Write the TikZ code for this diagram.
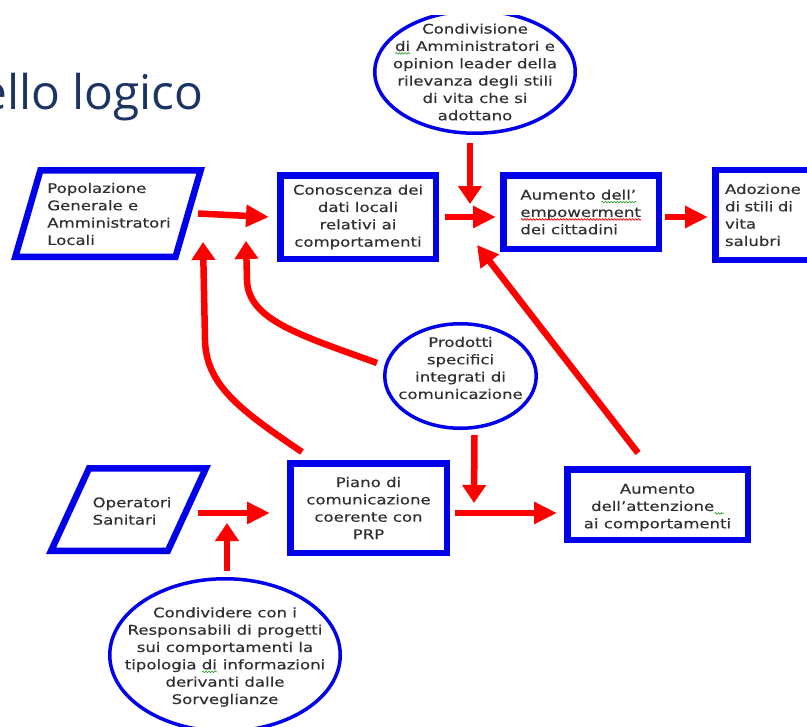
\documentclass[tikz,border=0pt]{standalone}
\usepackage{fontspec}
\usetikzlibrary{arrows.meta,shapes.geometric,decorations.pathmorphing}
\newfontfamily\diagfont[FakeStretch=1.25,FakeBold=0.35]{DejaVu Sans}
\newfontfamily\titlefont{Open Sans}
\definecolor{bblue}{RGB}{0,0,235}
\definecolor{rred}{RGB}{255,0,0}
\definecolor{ttext}{RGB}{50,45,50}
\definecolor{navy}{RGB}{28,52,100}
\definecolor{sqgreen}{RGB}{60,160,60}
\newsavebox{\wavybox}
\newcommand{\wavyul}[2]{\sbox{\wavybox}{#2}\rlap{\usebox{\wavybox}}\raisebox{-2.5bp}{\tikz[x=1bp,y=1bp,baseline=0pt]\draw[#1, line width=0.7bp, line cap=butt, decorate, decoration={snake, amplitude=0.8bp, segment length=3bp}] (0,0) -- (\wd\wavybox,0);}}
\begin{document}
\begin{tikzpicture}[x=1bp,y=-1bp,
  txt/.style={font=\diagfont\fontsize{13.3}{17.4}\selectfont, text=ttext},
  boxnode/.style={draw=bblue, line width=6.5bp, rectangle, inner sep=0pt, txt},
  parashape/.style={draw=bblue, line width=6.5bp, line join=miter},
  oval/.style={draw=bblue, line width=3.5bp, ellipse, inner sep=0pt},
  harr/.style={draw=rred, line width=6.5bp, -{Triangle[length=23bp,width=21bp]}},
  varr/.style={draw=rred, line width=6.5bp, -{Triangle[length=18bp,width=23bp]}},
  darr/.style={draw=rred, line width=6.5bp, -{Triangle[length=21bp,width=22bp]}}
]
\clip (0,0) rectangle (807,727);
\fill[white] (0,0) rectangle (807,727);

% title
\node[font=\titlefont\fontsize{48}{52}\selectfont, text=navy, anchor=base west, inner sep=0pt] (title) at (-20,110) {ello logico};

% top ellipse (cut by the top of the picture)
\begin{scope}
\clip (0,16) rectangle (807,727);
\node[oval, minimum width=200.5bp, minimum height=122.5bp,
  label={[txt, align=center]center:Condivisione\\\wavyul{sqgreen}{di} Amministratori e\\opinion leader della\\rilevanza degli stili\\di vita che si\\adottano}] (cTop) at (475,72) {};
\end{scope}

% first row
\draw[parashape] (40.45,170.25) -- (200.67,170.25) -- (175.55,256.75) -- (15.33,256.75) -- cycle;
\node[txt, align=left, inner sep=0pt] (pop) at (109,214) {Popolazione\\Generale e\\Amministratori\\Locali};
\coordinate (popE) at (190,213.5);

\node[boxnode, minimum width=155.5bp, minimum height=83.5bp, align=center] (con) at (358,217) {Conoscenza dei\\dati locali\\relativi ai\\comportamenti};
\node[boxnode, minimum width=155.5bp, minimum height=73.5bp, align=left] (emp) at (581,212) {Aumento \wavyul{sqgreen}{dell’}\\\wavyul{rred}{empowerment}\\dei cittadini};
\node[boxnode, minimum width=111.5bp, minimum height=89.5bp, text width=92bp, align=left] (ado) at (771,215) {Adozione\\di stili di\\vita\\salubri};

% middle ellipse
\node[oval, minimum width=151.5bp, minimum height=104.5bp,
  label={[txt, align=center, yshift=8bp]center:Prodotti\\specifici\\integrati di\\comunicazione}] (cMid) at (460.5,376) {};

% second row
\draw[parashape] (89.1,468.25) -- (205.9,468.25) -- (167.9,550.75) -- (51.1,550.75) -- cycle;
\node[txt, align=left, inner sep=0pt] (ops) at (132,511) {Operatori\\Sanitari};
\coordinate (opsE) at (189,513);

\node[boxnode, minimum width=156.5bp, minimum height=89.5bp, align=center] (piano) at (368.5,508) {Piano di\\comunicazione\\coerente con\\PRP};
\node[boxnode, minimum width=180.5bp, minimum height=70.5bp,
  label={[txt, align=center, yshift=-3bp]center:Aumento\\dell’attenzione\wavyul{sqgreen}{\hspace{9bp}}\\ai comportamenti}] (att) at (657.5,504.5) {};

% bottom ellipse
\node[oval, minimum width=230.5bp, minimum height=152.5bp,
  label={[txt, align=center, yshift=-2bp]center:Condividere con i\\Responsabili di progetti\\sui comportamenti la\\tipologia \wavyul{sqgreen}{di} informazioni\\derivanti dalle\\Sorveglianze}] (cBot) at (225,655) {};

% free arrow ends
\coordinate (tipA) at (203,242);
\coordinate (tipB) at (246,241);
\coordinate (tipC) at (477,245);
\coordinate (tipD) at (470,204);
\coordinate (tipE) at (227,523);
\coordinate (tipF) at (474,503);

% straight arrows
\draw[harr] ([shift={(8,0)}]popE) -- ([shift={(-8,0)}]con.west);
\draw[harr] ([shift={(6,0)}]con.east) -- ([shift={(-4,0)}]con.east -| emp.west);
\draw[harr] ([shift={(3,0)}]emp.east |- con.east) -- ([shift={(-4,0)}]ado.west |- con.east);
\draw[varr] ([shift={(-5,8)}]cTop.south) -- (tipD);
\draw[harr] ([shift={(9,0)}]opsE) -- ([shift={(-17,0)}]opsE -| piano.west);
\draw[harr] ([shift={(5,0)}]piano.east |- opsE) -- ([shift={(-7,0)}]opsE -| att.west);
\draw[varr] ([shift={(14,5)}]cMid.south) -- (tipF);
\draw[varr] ([shift={(2,-6)}]cBot.north) -- (tipE);

% curved and diagonal arrows
\draw[varr] ([shift={(15,-8)}]piano.north west) .. controls (240,410) and (206,385) .. (205,340) -- (tipA);
\draw[varr] ([shift={(-6,-13)}]cMid.west) .. controls (300,335) and (248,320) .. (247,280) -- (tipB);
\draw[darr] ([shift={(-19.5,-13)}]att.north) -- (tipC);
\end{tikzpicture}
\end{document}
